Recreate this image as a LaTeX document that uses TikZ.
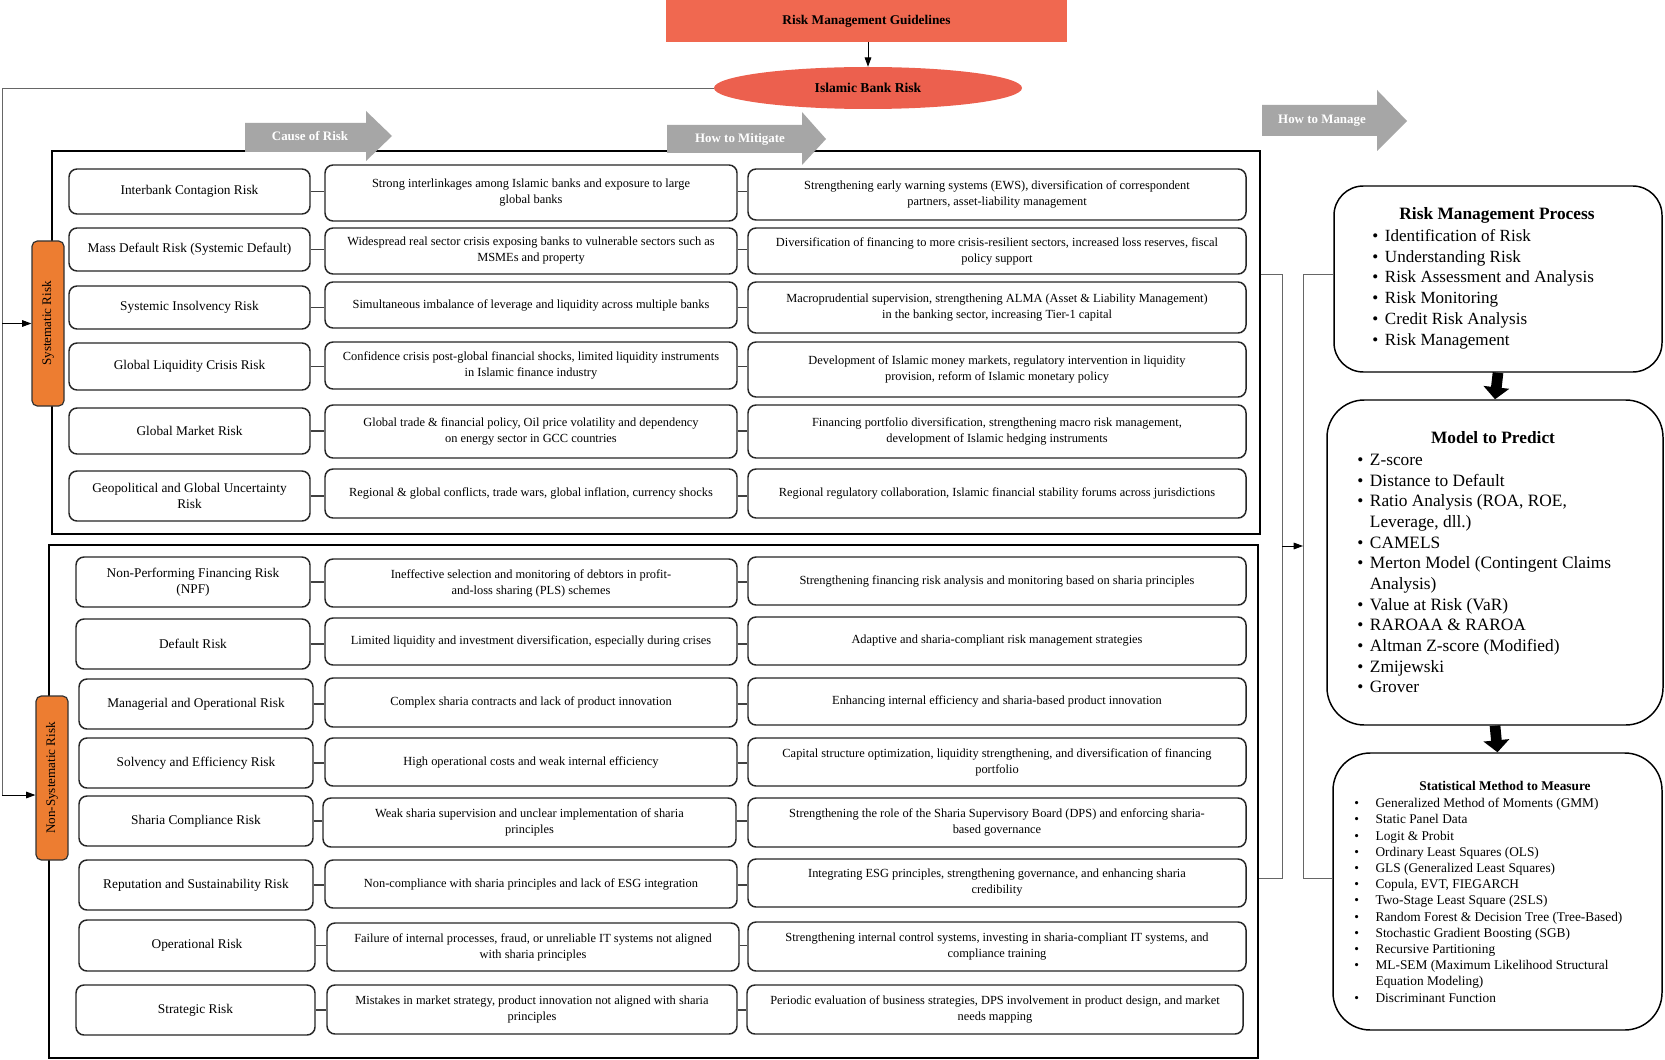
\documentclass[tikz,border=0pt]{standalone}
\usepackage{fontspec}
\setmainfont{Liberation Serif}
\usetikzlibrary{arrows.meta,fit,shapes.geometric}
\definecolor{gdl}{RGB}{240,104,80}
\definecolor{ibrc}{RGB}{236,96,78}
\definecolor{orng}{RGB}{237,125,49}
\definecolor{garr}{RGB}{166,166,166}
\tikzset{
 rowbox/.style={draw=black!85, line width=1.1pt, rounded corners=6pt, inner sep=0pt, align=center, font=\fontsize{9.3}{12}\selectfont},
 riskbox/.style={rowbox, font=\fontsize{10}{12}\selectfont},
 framebox/.style={draw=black, line width=1pt, inner sep=0pt},
 conn/.style={draw=black!75, line width=0.8pt},
 brk/.style={draw=black!60, line width=0.7pt},
 arr/.style={draw=black, -{Triangle[length=7pt,width=5pt]}, line width=0.7pt},
 bigarr/.style={draw=black, -{Triangle[length=9pt,width=19pt]}, line width=8pt},
 lab/.style={draw=black!80, fill=orng, rounded corners=4pt, line width=0.9pt, inner sep=0pt},
 labtext/.style={rotate=90, font=\fontsize{9.8}{11}\selectfont, inner sep=0pt},
 garrtext/.style={text=white, font=\bfseries\fontsize{9.7}{11}\selectfont, inner sep=0pt},
 bigbox/.style={draw=black, line width=1.1pt, inner sep=0pt},
 listtext/.style={anchor=north west, inner sep=0pt, align=left},
}
% box from (x1,y1) to (x2,y2) in pixel units
\newcommand\bx[7][rowbox]{\node[#1, minimum width={(#5-#3)*0.75pt}, minimum height={(#6-#4)*0.75pt}] (#2) at ({(#3+#5)/2},{(#4+#6)/2}) {#7};}
\newcommand\bul[1]{\makebox[#1][l]{\textbullet}}
\begin{document}
\begin{tikzpicture}[x=0.75pt,y=-0.75pt]
\path[use as bounding box, fill=white] (0,0) rectangle (1665,1059);

% header
\bx[fill=gdl, inner sep=0pt, font=\bfseries\fontsize{10}{11}\selectfont]{rmg}{666}{0}{1067}{42}{Risk Management Guidelines}
\node[ellipse, fill=ibrc, minimum width=231pt, minimum height=31.5pt, inner sep=0pt, font=\bfseries\fontsize{10.2}{11}\selectfont] (ibr) at (868,88) {Islamic Bank Risk};
\draw[arr] (rmg.south -| ibr.north) -- (ibr.north);

% frames
\bx[framebox]{sysF}{52}{151}{1260}{534}{}
\bx[framebox]{nsysF}{49}{545}{1258}{1058}{}

% gray arrows
\fill[garr] (245,123) -- (366,123) -- (366,111) -- (392,136) -- (366,161) -- (366,152) -- (245,152) -- cycle;
\node[garrtext] (tcause) at (310,136) {Cause of Risk};
\fill[garr] (667,125) -- (802,125) -- (802,112) -- (826,139) -- (802,165) -- (802,153) -- (667,153) -- cycle;
\node[garrtext] (tmit) at (740,139) {How to Mitigate};
\fill[garr] (1262,105) -- (1377,105) -- (1377,90) -- (1407,121) -- (1377,151) -- (1377,136) -- (1262,136) -- cycle;
\node[garrtext] (tman) at (1322,121) {How to Manage};

% orange labels
\bx[lab]{sys}{32}{241}{64}{406}{}
\node[labtext] (systxt) at (sys.center) {Systematic Risk};
\bx[lab]{nsys}{36}{696}{68}{860}{}
\node[labtext] (nsystxt) at (nsys.center) {Non-Systematic Risk};

% loop from Islamic Bank Risk
\coordinate (L1) at (2,88);
\coordinate (L2) at (2,795);
\draw[brk] (ibr.west) -- (L1) -- (L2);
\draw[arr] (L1 |- sys.west) -- (sys.west);
\draw[arr] (L2) -- (L2 -| nsys.west);

% systematic rows
\bx[riskbox]{a1}{69}{169}{310}{214}{Interbank Contagion Risk}
\bx{b1}{325}{165}{737}{221}{Strong interlinkages among Islamic banks and exposure to large\\global banks}
\bx{c1}{748}{169}{1246}{220}{Strengthening early warning systems (EWS), diversification of correspondent\\partners, asset-liability management}
\bx[riskbox]{a2}{69}{228}{310}{271}{Mass Default Risk (Systemic Default)}
\bx{b2}{325}{228}{737}{274}{Widespread real sector crisis exposing banks to vulnerable sectors such as\\MSMEs and property}
\bx{c2}{748}{228}{1246}{274}{Diversification of financing to more crisis-resilient sectors, increased loss reserves, fiscal\\policy support}
\bx[riskbox]{a3}{69}{286}{310}{329}{Systemic Insolvency Risk}
\bx{b3}{325}{282}{737}{328}{Simultaneous imbalance of leverage and liquidity across multiple banks}
\bx{c3}{748}{282}{1246}{333}{Macroprudential supervision, strengthening ALMA (Asset \& Liability Management)\\in the banking sector, increasing Tier-1 capital}
\bx[riskbox]{a4}{69}{343}{310}{390}{Global Liquidity Crisis Risk}
\bx{b4}{325}{342}{737}{389}{Confidence crisis post-global financial shocks, limited liquidity instruments\\in Islamic finance industry}
\bx{c4}{748}{342}{1246}{397}{Development of Islamic money markets, regulatory intervention in liquidity\\provision, reform of Islamic monetary policy}
\bx[riskbox]{a5}{69}{408}{310}{454}{Global Market Risk}
\bx{b5}{325}{405}{737}{458}{Global trade \& financial policy, Oil price volatility and dependency\\on energy sector in GCC countries}
\bx{c5}{748}{405}{1246}{458}{Financing portfolio diversification, strengthening macro risk management,\\development of Islamic hedging instruments}
\bx[riskbox]{a6}{69}{471}{310}{521}{Geopolitical and Global Uncertainty\\Risk}
\bx{b6}{325}{469}{737}{518}{Regional \& global conflicts, trade wars, global inflation, currency shocks}
\bx{c6}{748}{469}{1246}{518}{Regional regulatory collaboration, Islamic financial stability forums across jurisdictions}

% non-systematic rows
\bx[riskbox]{d1}{76}{557}{310}{607}{Non-Performing Financing Risk\\(NPF)}
\bx{e1}{325}{559}{737}{607}{Ineffective selection and monitoring of debtors in profit-\\and-loss sharing (PLS) schemes}
\bx{f1}{748}{557}{1246}{605}{Strengthening financing risk analysis and monitoring based on sharia principles}
\bx[riskbox]{d2}{76}{619}{310}{669}{Default Risk}
\bx{e2}{325}{618}{737}{665}{Limited liquidity and investment diversification, especially during crises}
\bx{f2}{748}{617}{1246}{665}{Adaptive and sharia-compliant risk management strategies}
\bx[riskbox]{d3}{79}{679}{313}{729}{Managerial and Operational Risk}
\bx{e3}{325}{678}{737}{727}{Complex sharia contracts and lack of product innovation}
\bx{f3}{748}{678}{1246}{725}{Enhancing internal efficiency and sharia-based product innovation}
\bx[riskbox]{d4}{79}{738}{313}{788}{Solvency and Efficiency Risk}
\bx{e4}{325}{738}{737}{786}{High operational costs and weak internal efficiency}
\bx{f4}{748}{738}{1246}{786}{Capital structure optimization, liquidity strengthening, and diversification of financing\\portfolio}
\bx[riskbox]{d5}{79}{796}{313}{846}{Sharia Compliance Risk}
\bx{e5}{323}{798}{736}{847}{Weak sharia supervision and unclear implementation of sharia\\principles}
\bx{f5}{748}{798}{1246}{847}{Strengthening the role of the Sharia Supervisory Board (DPS) and enforcing sharia-\\based governance}
\bx[riskbox]{d6}{79}{860}{313}{910}{Reputation and Sustainability Risk}
\bx{e6}{325}{860}{737}{908}{Non-compliance with sharia principles and lack of ESG integration}
\bx{f6}{748}{859}{1246}{907}{Integrating ESG principles, strengthening governance, and enhancing sharia\\credibility}
\bx[riskbox]{d7}{79}{920}{315}{971}{Operational Risk}
\bx{e7}{327}{923}{739}{971}{Failure of internal processes, fraud, or unreliable IT systems not aligned\\with sharia principles}
\bx{f7}{748}{922}{1246}{971}{Strengthening internal control systems, investing in sharia-compliant IT systems, and\\compliance training}
\bx[riskbox]{d8}{76}{985}{315}{1035}{Strategic Risk}
\bx{e8}{327}{985}{737}{1034}{Mistakes in market strategy, product innovation not aligned with sharia\\principles}
\bx{f8}{747}{985}{1243}{1034}{Periodic evaluation of business strategies, DPS involvement in product design, and market\\needs mapping}

% row connectors
\foreach \i in {1,...,6}{
  \draw[conn] (a\i.east) -- (a\i.east -| b\i.west);
  \draw[conn] (a\i.east -| b\i.east) -- (a\i.east -| c\i.west);
}
\foreach \i in {1,...,8}{
  \draw[conn] (d\i.east) -- (d\i.east -| e\i.west);
  \draw[conn] (d\i.east -| e\i.east) -- (d\i.east -| f\i.west);
}

% right column boxes
\bx[bigbox, rounded corners=22pt]{rmp}{1334}{186}{1662}{372}{}
\bx[bigbox, rounded corners=28pt]{mtp}{1327}{400}{1663}{725}{}
\bx[bigbox, rounded corners=28pt]{smm}{1333}{753}{1662}{1030}{}
\draw[bigarr] (rmp.south) -- (mtp.north);
\draw[bigarr] (mtp.south) -- (smm.north);

\node[inner sep=0pt, font=\bfseries\fontsize{13}{15}\selectfont] (rmpT) at (1497,215) {Risk Management Process};
\node[listtext, font=\fontsize{12.8}{15.6}\selectfont] (rmpL) at (1372,229) {%
\bul{9.5pt}Identification of Risk\\
\bul{9.5pt}Understanding Risk\\
\bul{9.5pt}Risk Assessment and Analysis\\
\bul{9.5pt}Risk Monitoring\\
\bul{9.5pt}Credit Risk Analysis\\
\bul{9.5pt}Risk Management};

\node[inner sep=0pt, font=\bfseries\fontsize{13}{15}\selectfont] (mtpT) at (1493,438) {Model to Predict};
\node[listtext, font=\fontsize{13}{15.5}\selectfont] (mtpL) at (1357,454) {%
\bul{9.5pt}Z-score\\
\bul{9.5pt}Distance to Default\\
\bul{9.5pt}Ratio Analysis (ROA, ROE,\\
\hphantom{\bul{9.5pt}}Leverage, dll.)\\
\bul{9.5pt}CAMELS\\
\bul{9.5pt}Merton Model (Contingent Claims\\
\hphantom{\bul{9.5pt}}Analysis)\\
\bul{9.5pt}Value at Risk (VaR)\\
\bul{9.5pt}RAROAA \& RAROA\\
\bul{9.5pt}Altman Z-score (Modified)\\
\bul{9.5pt}Zmijewski\\
\bul{9.5pt}Grover};

\node[inner sep=0pt, font=\bfseries\fontsize{10}{11}\selectfont] (smmT) at (1505,786) {Statistical Method to Measure};
\node[listtext, font=\fontsize{10}{12.15}\selectfont] (smmL) at (1354,798) {%
\bul{16pt}Generalized Method of Moments (GMM)\\
\bul{16pt}Static Panel Data\\
\bul{16pt}Logit \& Probit\\
\bul{16pt}Ordinary Least Squares (OLS)\\
\bul{16pt}GLS (Generalized Least Squares)\\
\bul{16pt}Copula, EVT, FIEGARCH\\
\bul{16pt}Two-Stage Least Square (2SLS)\\
\bul{16pt}Random Forest \& Decision Tree (Tree-Based)\\
\bul{16pt}Stochastic Gradient Boosting (SGB)\\
\bul{16pt}Recursive Partitioning\\
\bul{16pt}ML-SEM (Maximum Likelihood Structural\\
\hphantom{\bul{16pt}}Equation Modeling)\\
\bul{16pt}Discriminant Function};

% bracket connectors
\coordinate (B1) at (1282,274);
\coordinate (B2) at (1282,878);
\coordinate (B3) at (1282,546);
\coordinate (C1) at (1303,274);
\coordinate (C2) at (1303,878);
\draw[brk] (sysF.east |- B1) -- (B1) -- (B2) -- (nsysF.east |- B2);
\draw[arr] (B3) -- (B3 -| C1);
\draw[brk] (rmp.west |- C1) -- (C1) -- (C2) -- (smm.west |- C2);
\end{tikzpicture}
\end{document}
